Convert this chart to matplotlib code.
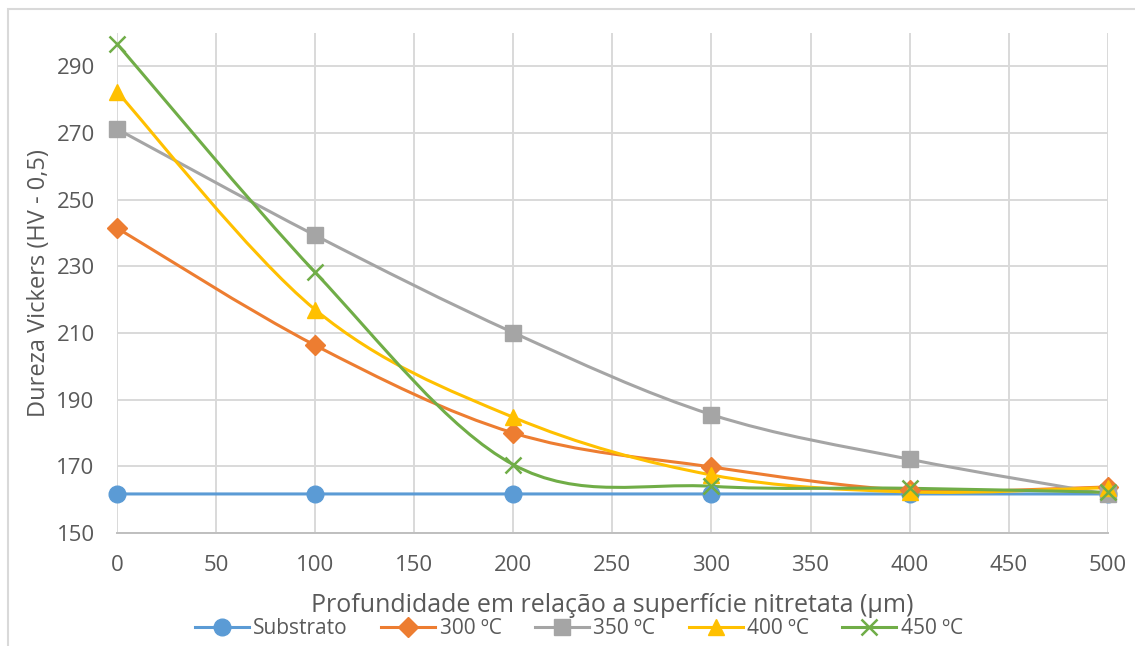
import numpy as np
import matplotlib
matplotlib.use('Agg')
import matplotlib.pyplot as plt
from matplotlib.path import Path
from matplotlib.patches import PathPatch, Rectangle
from matplotlib.lines import Line2D

plt.rcParams['font.family'] = ['Open Sans', 'DejaVu Sans']

# %%
profundidade = [0, 100, 200, 300, 400, 500]
substrato = [161.7, 161.7, 161.7, 161.7, 161.7, 161.7]
t300 = [241.5, 206.3, 180.0, 169.8, 162.8, 163.8]
t350 = [271.2, 239.3, 210.1, 185.5, 172.1, 161.6]
t400 = [282.4, 217.0, 184.7, 167.4, 162.3, 163.6]
t450 = [296.8, 228.2, 170.5, 164.0, 163.4, 162.2]

labels = ['Substrato', '300 ºC', '350 ºC', '400 ºC', '450 ºC']
cores = ['#5b9bd5', '#ed7d31', '#a5a5a5', '#ffc000', '#70ad47']
marcadores = ['o', 'D', 's', '^', 'x']
msizes = [12, 10, 11, 11, 11]
yticks = [150, 170, 190, 210, 230, 250, 270, 290]
xticks = [0, 50, 100, 150, 200, 250, 300, 350, 400, 450, 500]


def smooth_path(x, y, t=1/6):
    # bezier like the excel "smoothed line"
    p = np.column_stack([x, y]).astype(float)
    verts = [p[0]]
    codes = [Path.MOVETO]
    n = len(p)
    for i in range(n - 1):
        p0 = p[i - 1] if i > 0 else p[i]
        p3 = p[i + 2] if i + 2 < n else p[i + 1]
        c1 = p[i] + (p[i + 1] - p0) * t
        c2 = p[i + 1] - (p3 - p[i]) * t
        verts += [c1, c2, p[i + 1]]
        codes += [Path.CURVE4] * 3
    return Path(verts, codes)


# %%
fig = plt.figure(figsize=(11.35, 6.46), dpi=100)
ax = fig.add_axes([0.103, 0.175, 0.873, 0.774])

series = [substrato, t300, t350, t400, t450]
handles = []
for s, lab, c, m, ms in zip(series, labels, cores, marcadores, msizes):
    patch = PathPatch(smooth_path(profundidade, s), facecolor='none',
                      edgecolor=c, lw=2.2, zorder=3)
    ax.add_patch(patch)
    mew = 1.8 if m == 'x' else 1
    ax.plot(profundidade, s, ls='none', marker=m, ms=ms, color=c,
            mec=c, mew=mew, zorder=4, clip_on=False)
    handles.append(Line2D([], [], color=c, lw=2.2, marker=m, ms=ms,
                          mew=mew, label=lab))

ax.set_xlim(0, 500)
ax.set_ylim(150, 300)
ax.set_xticks(xticks)
ax.set_yticks(yticks)
ax.grid(True, color='#d9d9d9', lw=1.4)
ax.set_axisbelow(True)
for sp in ['top', 'right', 'left']:
    ax.spines[sp].set_visible(False)
ax.spines['bottom'].set_color('#bfbfbf')
ax.spines['bottom'].set_linewidth(1.4)
ax.tick_params(length=0, labelsize=16, colors='#595959')
ax.tick_params(axis='y', pad=16)
ax.tick_params(axis='x', pad=16)

ax.set_ylabel('Dureza Vickers (HV - 0,5)', fontsize=17, color='#595959', labelpad=4)
ax.set_xlabel('Profundidade em relação a superfície nitretata (µm)',
              fontsize=18, color='#595959', labelpad=12)

fig.legend(handles=handles, loc='center', bbox_to_anchor=(0.51, 0.027), ncol=5,
           frameon=False, fontsize=15, labelcolor='#595959', handlelength=2.6,
           columnspacing=1.6, handletextpad=0.2)

fig.patches.append(Rectangle((0.007, -0.01), 1.1, 0.996, transform=fig.transFigure,
                             fill=False, edgecolor='#d9d9d9', lw=1.5))

fig.savefig('out.png', dpi=100)
